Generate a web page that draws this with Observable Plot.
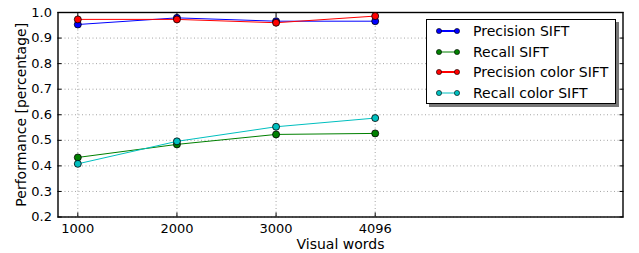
<!DOCTYPE html>
<html><head><meta charset="utf-8">
<script src="https://cdn.jsdelivr.net/npm/d3@7"></script>
<script src="https://cdn.jsdelivr.net/npm/@observablehq/plot@0.6"></script>
<style>
body{margin:0;background:#fff;font-family:"DejaVu Sans",sans-serif;}
#wrap{position:relative;width:639px;height:253px;}
#wrap svg g[aria-label="x-axis tick label"] text,#wrap svg g[aria-label="y-axis tick label"] text{font-size:13px;}
#wrap svg g[aria-label="x-axis label"] text,#wrap svg g[aria-label="y-axis label"] text{font-size:14px;}
#legend{position:absolute;left:426px;top:19px;width:190px;height:85px;border:1px solid #000;background:#fff;box-shadow:3px 3px 0 #777;font-size:14px;box-sizing:border-box;}
#legend .row{position:absolute;left:0;height:20px;display:flex;align-items:center;white-space:nowrap;}
#legend svg{margin-left:8px;margin-right:12px;}
</style></head><body>
<div id="wrap"><div id="legend"></div></div>
<script>
const categories = ["1000", "2000", "3000", "4096"];
const positions = [1, 2, 3, 4];
const seriesNames = ["Precision SIFT", "Recall SIFT", "Precision color SIFT", "Recall color SIFT"];
const precisionSIFT = [0.953, 0.979, 0.966, 0.966];
const recallSIFT = [0.433, 0.484, 0.523, 0.527];
const precisionColorSIFT = [0.973, 0.973, 0.960, 0.986];
const recallColorSIFT = [0.408, 0.496, 0.553, 0.587];
const colors = ["#0000ff", "#008000", "#ff0000", "#00bfbf"];
const yTicks = [0.2, 0.3, 0.4, 0.5, 0.6, 0.7, 0.8, 0.9, 1.0];

const allSeries = [precisionSIFT, recallSIFT, precisionColorSIFT, recallColorSIFT];
const data = [];
allSeries.forEach((vals, s) => vals.forEach((v, i) => data.push({series: seriesNames[s], x: positions[i], y: v})));

const fmtX = d => categories[positions.indexOf(d)];
const chart = Plot.plot({
  width: 639, height: 253,
  marginLeft: 57.5, marginRight: 16.5, marginTop: 12, marginBottom: 36.5,
  style: {fontFamily: "DejaVu Sans, sans-serif", color: "#000", background: "#fff"},
  x: {domain: [0.8, 6.5]},
  y: {domain: [0.2, 1.0]},
  color: {domain: seriesNames, range: colors},
  marks: [
    Plot.gridX(positions, {stroke: "#000", strokeOpacity: 0.45, strokeDasharray: "1,2.5", strokeWidth: 0.8}),
    Plot.gridY(yTicks, {stroke: "#000", strokeOpacity: 0.45, strokeDasharray: "1,2.5", strokeWidth: 0.8}),
    Plot.axisX({ticks: positions, tickSize: 0, tickPadding: 7, tickFormat: fmtX, label: "Visual words", labelAnchor: "center", labelArrow: "none", labelOffset: 32}),
    Plot.axisX({ticks: positions, tickSize: -4, tickFormat: () => "", label: null}),
    Plot.axisX({ticks: positions, anchor: "top", tickSize: -4, tickFormat: () => "", label: null}),
    Plot.axisY({ticks: yTicks, tickSize: 0, tickPadding: 6, tickFormat: d3.format(".1f"), label: "Performance [percentage]", labelAnchor: "center", labelArrow: "none", labelOffset: 42}),
    Plot.axisY({ticks: yTicks, tickSize: -4, tickFormat: () => "", label: null}),
    Plot.axisY({ticks: yTicks, anchor: "right", tickSize: -4, tickFormat: () => "", label: null}),
    Plot.frame({stroke: "#000", strokeWidth: 1.4}),
    Plot.line(data, {x: "x", y: "y", z: "series", stroke: "series", strokeWidth: 1}),
    Plot.dot(data, {x: "x", y: "y", fill: "series", stroke: "#000", strokeWidth: 0.8, r: 3.5})
  ]
});
document.getElementById("wrap").prepend(chart);

const legend = document.getElementById("legend");
seriesNames.forEach((name, i) => {
  const row = document.createElement("div");
  row.className = "row";
  row.style.top = (1 + i * 20.5) + "px";
  row.innerHTML = `<svg width="26" height="10"><line x1="4" x2="22" y1="5" y2="5" stroke="${colors[i]}" stroke-width="${i % 2 ? 1 : 2}"/><circle cx="4" cy="5" r="2.6" fill="${colors[i]}" stroke="#000" stroke-width="0.6"/><circle cx="22" cy="5" r="2.6" fill="${colors[i]}" stroke="#000" stroke-width="0.6"/></svg><span>${name}</span>`;
  legend.appendChild(row);
});
</script>
</body></html>
